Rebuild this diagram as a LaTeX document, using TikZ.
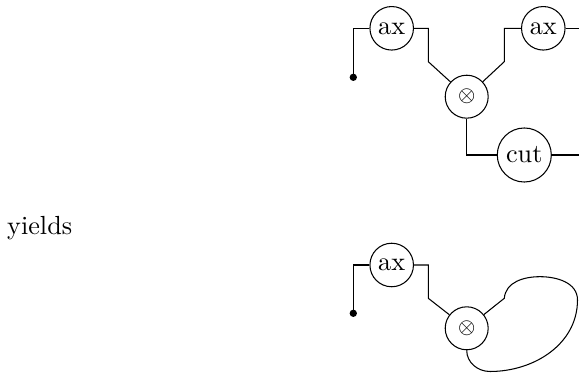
\documentclass[tikz,border=0pt]{standalone}
\begin{document}
\begin{tikzpicture}[x={(0.3817pt,0)},y={(0,-0.3817pt)},
  gate/.style={draw,circle,inner sep=2pt},
  tens/.style={draw,circle,minimum size=16.4pt,inner sep=0pt,font=\footnotesize},
  wire/.style={line width=0.4pt},
  dotmark/.style={fill,circle,inner sep=0pt,minimum size=2.8pt}]
\useasboundingbox (0,0) rectangle (579,376);
% label
\node[anchor=base west,inner sep=0pt] (yl) at (6.7,235) {yields};
% top diagram
\node[gate] (axL) at (391.7,28.3) {ax};
\node[gate] (axR) at (543.3,28.3) {ax};
\node[tens] (ot) at (466.7,96.7) {$\otimes$};
\node[gate] (cut) at (524.3,155) {cut};
\node[dotmark] (d1) at (353.3,77.3) {};
\coordinate (e1) at (579,28.3);
\coordinate (e2) at (579,155);
\draw[wire] (axL.west) -| (d1.center);
\draw[wire] (axL.east) -| (428.3,61.7) -- (ot);
\draw[wire] (axR.west) -| (504.3,61.7) -- (ot);
\draw[wire] (axR.east) -- (e1);
\draw[wire] (ot.south) |- (cut.west);
\draw[wire] (cut.east) -- (e2);
% bottom diagram
\node[gate] (axL2) at (391.7,265) {ax};
\node[tens] (ot2) at (466.7,328.3) {$\otimes$};
\node[dotmark] (d2) at (353.3,313.3) {};
\coordinate (k) at (504.3,298.3);
\draw[wire] (axL2.west) -| (d2.center);
\draw[wire] (axL2.east) -| (428.3,298.3) -- (ot2);
\draw[wire] (ot2) -- (k) to[out=85,in=180] (540,276.7) to[out=0,in=90] (577.5,300)
  to[out=-90,in=0] (490,371.5) to[out=180,in=-90] (ot2.south);
\end{tikzpicture}
\end{document}
